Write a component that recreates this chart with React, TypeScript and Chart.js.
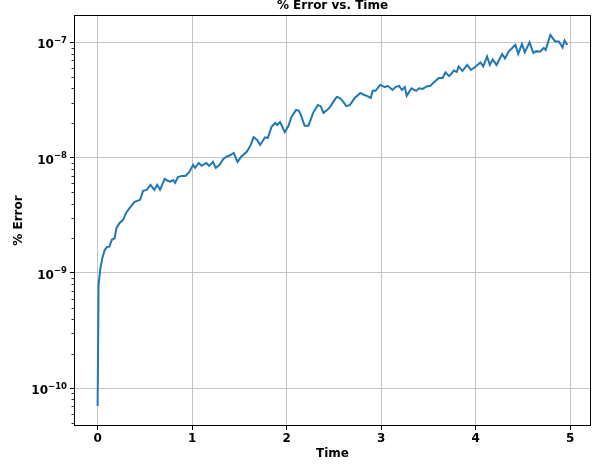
import React, { useEffect, useRef } from "react";
import { Chart, registerables } from "chart.js";

Chart.register(...registerables);

const chartTitle = "% Error vs. Time";
const xAxisTitle = "Time";
const yAxisTitle = "% Error";

const times = [
  0, 0.01, 0.03, 0.05, 0.075, 0.1, 0.125, 0.15, 0.18, 0.2,
  0.23, 0.27, 0.3, 0.34, 0.39, 0.45, 0.48, 0.52, 0.56, 0.6,
  0.63, 0.66, 0.71, 0.74, 0.77, 0.8, 0.82, 0.85, 0.89, 0.93,
  0.97, 1.01, 1.03, 1.07, 1.1, 1.15, 1.18, 1.22, 1.25, 1.29,
  1.33, 1.36, 1.4, 1.44, 1.48, 1.52, 1.58, 1.62, 1.65, 1.69,
  1.72, 1.77, 1.8, 1.84, 1.88, 1.9, 1.93, 1.98, 2.02, 2.05,
  2.1, 2.13, 2.15, 2.19, 2.23, 2.28, 2.33, 2.36, 2.39, 2.43,
  2.46, 2.5, 2.53, 2.56, 2.6, 2.63, 2.67, 2.72, 2.78, 2.82,
  2.85, 2.89, 2.91, 2.94, 2.99, 3.04, 3.07, 3.12, 3.15, 3.19,
  3.22, 3.25, 3.27, 3.32, 3.37, 3.4, 3.44, 3.48, 3.52, 3.55,
  3.61, 3.65, 3.68, 3.72, 3.77, 3.8, 3.82, 3.86, 3.91, 3.95,
  4.0, 4.05, 4.08, 4.12, 4.15, 4.18, 4.22, 4.28, 4.31, 4.35,
  4.42, 4.45, 4.49, 4.52, 4.57, 4.61, 4.64, 4.68, 4.72, 4.74,
  4.79, 4.84, 4.88, 4.92, 4.94, 4.97,
];

const errors = [
  7.0e-11, 7.9e-10, 1.11e-9, 1.35e-9, 1.58e-9, 1.68e-9, 1.69e-9, 1.94e-9, 2.0e-9, 2.46e-9,
  2.7e-9, 2.89e-9, 3.32e-9, 3.67e-9, 4.14e-9, 4.31e-9, 5.15e-9, 5.26e-9, 5.81e-9, 5.26e-9,
  5.81e-9, 5.26e-9, 6.55e-9, 6.3e-9, 6.2e-9, 6.4e-9, 6.05e-9, 6.8e-9, 6.95e-9, 6.95e-9,
  7.53e-9, 8.66e-9, 8.16e-9, 9.0e-9, 8.5e-9, 9.0e-9, 8.5e-9, 9.2e-9, 8.16e-9, 8.66e-9,
  9.77e-9, 1.017e-8, 1.05e-8, 1.1e-8, 9.2e-9, 1.02e-8, 1.13e-8, 1.29e-8, 1.51e-8, 1.42e-8,
  1.29e-8, 1.5e-8, 1.48e-8, 1.85e-8, 2.0e-8, 1.92e-8, 2.04e-8, 1.67e-8, 1.89e-8, 2.26e-8,
  2.6e-8, 2.55e-8, 2.35e-8, 1.89e-8, 1.89e-8, 2.45e-8, 2.87e-8, 2.8e-8, 2.45e-8, 2.6e-8,
  2.76e-8, 3.11e-8, 3.37e-8, 3.3e-8, 3.05e-8, 2.8e-8, 2.87e-8, 3.3e-8, 3.65e-8, 3.5e-8,
  3.44e-8, 3.3e-8, 3.8e-8, 3.8e-8, 4.28e-8, 4.1e-8, 4.2e-8, 3.87e-8, 4.1e-8, 4.2e-8,
  3.87e-8, 4.1e-8, 3.44e-8, 4.0e-8, 3.8e-8, 4.0e-8, 3.95e-8, 4.15e-8, 4.2e-8, 4.45e-8,
  4.92e-8, 4.92e-8, 5.49e-8, 5.1e-8, 5.71e-8, 5.55e-8, 6.19e-8, 5.65e-8, 6.38e-8, 5.77e-8,
  6.19e-8, 6.71e-8, 6.19e-8, 7.56e-8, 6.38e-8, 7.13e-8, 6.38e-8, 7.95e-8, 7.26e-8, 8.36e-8,
  9.51e-8, 7.95e-8, 9.7e-8, 8.2e-8, 1.0e-7, 8.1e-8, 8.4e-8, 8.3e-8, 8.96e-8, 8.6e-8,
  1.16e-7, 1.02e-7, 1.02e-7, 9.05e-8, 1.04e-7, 9.5e-8,
];

const xTicks = [0, 1, 2, 3, 4, 5];
const yDecades = [-11, -10, -9, -8, -7];
const xRange = [-0.25, 5.22];
const yRange = [4.7e-11, 1.73e-7];

const FONT = "'DejaVu Sans', sans-serif";
const isDecade = (v: number) => {
  const e = Math.round(Math.log10(v));
  return Math.abs(v / Math.pow(10, e) - 1) < 1e-6;
};

export default function App() {
  const ref = useRef<HTMLCanvasElement | null>(null);

  useEffect(() => {
    const canvas = ref.current;
    if (!canvas) return;

    const framePlugin = {
      id: "frame",
      beforeDraw(chart: any) {
        const { ctx } = chart;
        ctx.save();
        ctx.fillStyle = "#ffffff";
        ctx.fillRect(0, 0, chart.width, chart.height);
        ctx.restore();
      },
      afterDraw(chart: any) {
        const { ctx, chartArea: a } = chart;
        ctx.save();
        const ys = chart.scales.y;
        ctx.strokeStyle = "#000";
        ctx.lineWidth = 0.8;
        for (const t of ys.ticks) {
          if (isDecade(t.value)) continue;
          const py = Math.round(ys.getPixelForValue(t.value)) + 0.5;
          ctx.beginPath();
          ctx.moveTo(a.left - 2.5, py);
          ctx.lineTo(a.left, py);
          ctx.stroke();
        }
        // y tick labels: 10 with raised exponent
        ctx.fillStyle = "#000";
        ctx.textBaseline = "alphabetic";
        ctx.textAlign = "left";
        for (const t of ys.ticks) {
          if (!isDecade(t.value)) continue;
          const py = ys.getPixelForValue(t.value);
          const exp = String(Math.round(Math.log10(t.value))).replace("-", "\u2212");
          ctx.font = `bold 8.5px ${FONT}`;
          const ew = ctx.measureText(exp).width;
          ctx.font = `bold 12px ${FONT}`;
          const bw = ctx.measureText("10").width;
          const right = a.left - 7;
          const bx = right - ew - bw;
          ctx.fillText("10", bx, py + 6);
          ctx.font = `bold 8.5px ${FONT}`;
          ctx.fillText(exp, bx + bw, py + 0.5);
        }
        // box
        ctx.strokeStyle = "#000";
        ctx.lineWidth = 1;
        ctx.strokeRect(a.left + 0.5, a.top + 0.5, a.right - a.left - 1, a.bottom - a.top - 1);
        // title
        ctx.fillStyle = "#000";
        ctx.font = `bold 12px ${FONT}`;
        ctx.textAlign = "center";
        ctx.textBaseline = "middle";
        ctx.fillText(chartTitle, (a.left + a.right) / 2, 6);
        ctx.restore();
      },
    };

    const chart = new Chart(canvas, {
      type: "line",
      data: {
        datasets: [
          {
            data: times.map((t, i) => ({ x: t, y: errors[i] })),
            borderColor: "#1f77b4",
            borderWidth: 2,
            pointRadius: 0,
            tension: 0,
            fill: false,
          },
        ],
      },
      options: {
        responsive: false,
        animation: false,
        events: [],
        layout: { padding: { top: 15, right: 13, left: 0, bottom: 0 } },
        plugins: { legend: { display: false }, tooltip: { enabled: false }, title: { display: false } },
        scales: {
          x: {
            type: "linear",
            min: xRange[0],
            max: xRange[1],
            afterFit: (s: any) => { s.height = 40; },
            afterBuildTicks: (s: any) => { s.ticks = xTicks.map((v) => ({ value: v })); },
            border: { display: false },
            grid: { color: "#c4c4c4", lineWidth: 1, tickLength: 4, tickColor: "#000", drawTicks: true },
            ticks: {
              includeBounds: false,
              autoSkip: false,
              maxRotation: 0,
              padding: 2,
              color: "#000",
              font: { family: FONT, size: 12, weight: "bold" },
              callback: (v: any) => String(v),
            },
            title: {
              display: true,
              text: xAxisTitle,
              color: "#000",
              font: { family: FONT, size: 12, weight: "bold" },
              padding: { top: 0, bottom: 5 },
            },
          },
          y: {
            type: "logarithmic",
            min: yRange[0],
            max: yRange[1],
            afterFit: (s: any) => { s.width = 74; },
            afterBuildTicks: (s: any) => {
              const list: any[] = [];
              for (const e of yDecades) {
                for (let k = 1; k <= 9; k++) {
                  const v = k * Math.pow(10, e);
                  if (v >= yRange[0] && v <= yRange[1]) list.push({ value: v, major: k === 1 });
                }
              }
              s.ticks = list;
            },
            border: { display: false },
            grid: {
              color: (c: any) => (c.tick && isDecade(c.tick.value) ? "#c4c4c4" : "rgba(0,0,0,0)"),
              tickColor: (c: any) => (c.tick && isDecade(c.tick.value) ? "#000" : "rgba(0,0,0,0)"),
              lineWidth: 1,
              tickLength: 4,
            },
            ticks: {
              autoSkip: false,
              padding: 3,
              color: "#000",
              font: { family: FONT, size: 12, weight: "bold" },
              callback: () => "",
            },
            title: {
              display: true,
              text: yAxisTitle,
              color: "#000",
              font: { family: FONT, size: 12, weight: "bold" },
              padding: { top: 12, bottom: 0 },
            },
          },
        },
      } as any,
      plugins: [framePlugin],
    });

    return () => chart.destroy();
  }, []);

  return (
    <div style={{ position: "absolute", left: 0, top: 0, width: 604, height: 466 }}>
      <canvas ref={ref} width={604} height={466} style={{ display: "block" }} />
    </div>
  );
}
